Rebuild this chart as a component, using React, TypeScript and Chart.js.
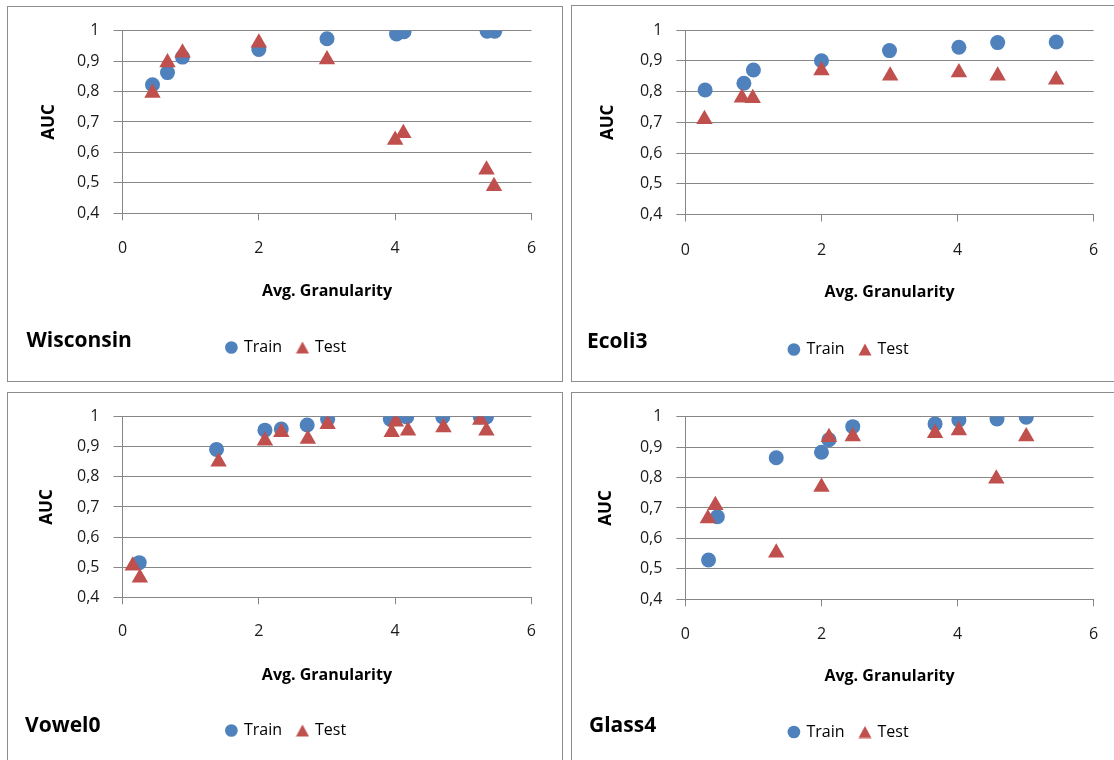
import React, { useEffect, useRef } from 'react';
import { Chart, registerables } from 'chart.js';
Chart.register(...registerables);

// ---------- data ----------
const seriesLabels = ['Train', 'Test'];
const xAxisTitle = 'Avg. Granularity';
const yAxisTitle = 'AUC';
const xTickValues = [0, 2, 4, 6];
const yTickValues = [0.4, 0.5, 0.6, 0.7, 0.8, 0.9, 1];

const wisconsinTrainX = [0.44, 0.66, 0.88, 2.0, 3.0, 4.02, 4.13, 5.35, 5.46];
const wisconsinTrainY = [0.822, 0.862, 0.913, 0.938, 0.973, 0.989, 0.996, 0.998, 0.998];
const wisconsinTestX = [0.44, 0.66, 0.88, 2.0, 3.0, 4.0, 4.12, 5.34, 5.45];
const wisconsinTestY = [0.795, 0.895, 0.927, 0.96, 0.905, 0.641, 0.663, 0.543, 0.489];

const ecoliTrainX = [0.29, 0.86, 1.0, 2.0, 3.0, 4.02, 4.59, 5.45];
const ecoliTrainY = [0.805, 0.827, 0.87, 0.9, 0.933, 0.944, 0.959, 0.961];
const ecoliTestX = [0.28, 0.83, 0.99, 2.0, 3.01, 4.02, 4.59, 5.45];
const ecoliTestY = [0.71, 0.78, 0.778, 0.868, 0.851, 0.862, 0.851, 0.838];

const vowelTrainX = [0.245, 1.38, 2.09, 2.33, 2.71, 3.01, 3.93, 4.01, 4.17, 4.7, 5.25, 5.34];
const vowelTrainY = [0.515, 0.891, 0.955, 0.959, 0.972, 0.991, 0.991, 0.993, 0.999, 0.999, 0.999, 0.999];
const vowelTestX = [0.15, 0.255, 1.41, 2.09, 2.33, 2.72, 3.01, 3.95, 4.01, 4.19, 4.71, 5.25, 5.34];
const vowelTestY = [0.505, 0.465, 0.85, 0.92, 0.948, 0.926, 0.975, 0.948, 0.983, 0.953, 0.964, 0.989, 0.953];

const glassTrainX = [0.34, 0.47, 1.335, 2.0, 2.11, 2.46, 3.67, 4.02, 4.58, 5.01];
const glassTrainY = [0.529, 0.671, 0.865, 0.883, 0.924, 0.967, 0.976, 0.989, 0.992, 0.998];
const glassTestX = [0.33, 0.44, 1.335, 2.0, 2.11, 2.46, 3.67, 4.02, 4.57, 5.01];
const glassTestY = [0.665, 0.709, 0.553, 0.769, 0.932, 0.935, 0.945, 0.954, 0.796, 0.935];

// ---------- styles ----------
const FONT = '"Open Sans", sans-serif';
const TRAIN_COLOR = '#4F81BD';
const TEST_COLOR = '#C0504D';
const GRID_COLOR = '#878787';
const TEXT_COLOR = '#1a1a1a';
const TICK_SIZE = 16;
const TITLE_SIZE = 16;
const YTITLE_SIZE = 17;
const LEGEND_SIZE = 16;
const LEGEND_PAD = 16;
const NAME_SIZE = 21;

type PanelLayout = {
  box: number[]; // left, top, width, height (page coords)
  area: number[]; // left, top, right, bottom of plot area
  yTitleX: number;
  xLabelY: number;
  xTitleY: number;
  legendX: number;
  legendY: number;
  nameX: number;
  nameBase: number;
};

type PanelDef = {
  name: string;
  trainX: number[];
  trainY: number[];
  testX: number[];
  testY: number[];
  layout: PanelLayout;
};

const panels: PanelDef[] = [
  {
    name: 'Wisconsin',
    trainX: wisconsinTrainX, trainY: wisconsinTrainY, testX: wisconsinTestX, testY: wisconsinTestY,
    layout: { box: [7, 6, 556, 376], area: [122.5, 29.5, 531.5, 213.3], yTitleX: 49, xLabelY: 248.3, xTitleY: 291, legendX: 286.5, legendY: 347.5, nameX: 26.5, nameBase: 347 },
  },
  {
    name: 'Ecoli3',
    trainX: ecoliTrainX, trainY: ecoliTrainY, testX: ecoliTestX, testY: ecoliTestY,
    layout: { box: [571, 5, 560, 377], area: [685.4, 30, 1093.6, 214.5], yTitleX: 608, xLabelY: 250, xTitleY: 292.5, legendX: 849, legendY: 349.5, nameX: 587, nameBase: 348 },
  },
  {
    name: 'Vowel0',
    trainX: vowelTrainX, trainY: vowelTrainY, testX: vowelTestX, testY: vowelTestY,
    layout: { box: [7, 392, 556, 380], area: [122.5, 414, 531.4, 597.3], yTitleX: 47, xLabelY: 631.7, xTitleY: 675, legendX: 286.5, legendY: 730.5, nameX: 25, nameBase: 731.5 },
  },
  {
    name: 'Glass4',
    trainX: glassTrainX, trainY: glassTrainY, testX: glassTestX, testY: glassTestY,
    layout: { box: [571, 392, 560, 380], area: [685.4, 416, 1093.6, 599.3], yTitleX: 606, xLabelY: 634, xTitleY: 676, legendX: 849, legendY: 732, nameX: 589, nameBase: 731.5 },
  },
];

function fmtComma(v: number) {
  const r = Math.round(v * 10) / 10;
  if (r === 1) return '1';
  return r.toFixed(1).replace('.', ',');
}

function makeLegendTriangle(): HTMLCanvasElement {
  const c = document.createElement('canvas');
  c.width = 14;
  c.height = 13;
  const ctx = c.getContext('2d');
  if (ctx) {
    ctx.fillStyle = TEST_COLOR;
    ctx.beginPath();
    ctx.moveTo(7, 0.5);
    ctx.lineTo(13.5, 12.5);
    ctx.lineTo(0.5, 12.5);
    ctx.closePath();
    ctx.fill();
  }
  return c;
}

function Panel({ p }: { p: PanelDef }) {
  const ref = useRef<HTMLCanvasElement>(null);
  const L = p.layout;
  const [bx, by, bw, bh] = L.box;
  const cx0 = bx + 1;
  const cy0 = by + 1;
  const W = bw - 2;
  const H = bh - 2;

  useEffect(() => {
    const canvas = ref.current;
    if (!canvas) return;
    const cl = L.area[0] - cx0;
    const ct = L.area[1] - cy0;
    const cr = L.area[2] - cx0;
    const cb = L.area[3] - cy0;
    const pr = W - cr;
    const lc = L.legendX - cx0;
    const pl = 2 * lc - W + pr;
    const yScaleWidth = cl - pl;
    const lcy = L.legendY - cy0;
    const lpb = H - lcy - LEGEND_SIZE / 2 - 10;
    const legendH = LEGEND_SIZE + LEGEND_PAD + 10;
    const legendTop = H - lpb - legendH;
    const xScaleHeight = legendTop - cb;
    const titleLH = TITLE_SIZE * 1.2;
    const xTitlePadBottom = legendTop - (L.xTitleY - cy0) - titleLH / 2;
    const tickLH = TICK_SIZE * 1.2;
    const xTickPad = L.xLabelY - L.area[3] - 7 - tickLH / 2;
    const yTitleLH = YTITLE_SIZE * 1.2;
    const yTitlePadTop = (L.yTitleX - cx0) - pl - yTitleLH / 2;
    const legendTriangle = makeLegendTriangle();

    const namePlugin = {
      id: 'panelName',
      afterDraw(chart: any) {
        const ctx = chart.ctx;
        ctx.save();
        ctx.font = `bold ${NAME_SIZE}px ${FONT}`;
        ctx.fillStyle = '#000';
        ctx.textAlign = 'left';
        ctx.textBaseline = 'alphabetic';
        ctx.fillText(p.name, L.nameX - cx0, L.nameBase - cy0);
        ctx.restore();
      },
    };

    const defaultGen = (Chart.defaults.plugins.legend.labels as any).generateLabels;

    const chart = new Chart(canvas, {
      type: 'scatter',
      data: {
        datasets: [
          {
            label: seriesLabels[0],
            data: p.trainX.map((x, i) => ({ x, y: p.trainY[i] })),
            pointStyle: 'circle',
            pointRadius: 7.5,
            pointHoverRadius: 7.5,
            backgroundColor: TRAIN_COLOR,
            borderColor: TRAIN_COLOR,
            pointBorderWidth: 0,
            order: 1,
          },
          {
            label: seriesLabels[1],
            data: p.testX.map((x, i) => ({ x, y: p.testY[i] })),
            pointStyle: 'triangle',
            pointRadius: 9.5,
            pointHoverRadius: 9.5,
            backgroundColor: TEST_COLOR,
            borderColor: TEST_COLOR,
            pointBorderWidth: 0,
            order: 0,
          },
        ],
      },
      options: {
        responsive: false,
        animation: false,
        layout: { padding: { left: pl, right: pr, top: ct, bottom: lpb } },
        scales: {
          x: {
            type: 'linear',
            min: 0,
            max: 6,
            afterBuildTicks: (s: any) => { s.ticks = xTickValues.map((v) => ({ value: v })); },
            afterFit: (s: any) => { s.height = xScaleHeight; },
            ticks: { padding: xTickPad, color: TEXT_COLOR, font: { family: FONT, size: TICK_SIZE } },
            grid: { drawOnChartArea: false, drawTicks: true, tickLength: 7, color: GRID_COLOR, lineWidth: 1 },
            border: { display: true, color: GRID_COLOR, width: 1 },
            title: {
              display: true,
              text: xAxisTitle,
              color: '#000',
              font: { family: FONT, size: TITLE_SIZE, weight: 'bold' },
              padding: { top: 0, bottom: xTitlePadBottom },
            },
          },
          y: {
            type: 'linear',
            min: 0.4,
            max: 1,
            afterBuildTicks: (s: any) => { s.ticks = yTickValues.map((v) => ({ value: v })); },
            afterFit: (s: any) => { s.width = yScaleWidth; },
            ticks: { padding: 14, color: TEXT_COLOR, font: { family: FONT, size: TICK_SIZE }, callback: (v: any) => fmtComma(Number(v)) },
            grid: { color: GRID_COLOR, tickLength: 9, lineWidth: 1 },
            border: { display: true, color: GRID_COLOR, width: 1 },
            title: {
              display: true,
              text: yAxisTitle,
              color: '#000',
              font: { family: FONT, size: YTITLE_SIZE, weight: 'bold' },
              padding: { top: yTitlePadTop, bottom: 0 },
            },
          },
        },
        plugins: {
          tooltip: { enabled: false },
          legend: {
            position: 'bottom',
            labels: {
              usePointStyle: true,
              boxWidth: 9,
              boxHeight: 9,
              padding: LEGEND_PAD,
              color: '#000',
              font: { family: FONT, size: LEGEND_SIZE },
              sort: (a: any, b: any) => a.datasetIndex - b.datasetIndex,
              generateLabels: (c: any) =>
                defaultGen(c).map((item: any) =>
                  item.datasetIndex === 1 ? { ...item, pointStyle: legendTriangle } : item
                ),
            },
          },
        },
      } as any,
      plugins: [namePlugin],
    });
    return () => chart.destroy();
  }, [p]);

  return (
    <div
      style={{
        position: 'absolute',
        left: bx,
        top: by,
        width: bw,
        height: bh,
        boxSizing: 'border-box',
        border: '1px solid #8c8c8c',
        background: '#fff',
      }}
    >
      <canvas ref={ref} width={W} height={H} style={{ display: 'block', width: W, height: H }} />
    </div>
  );
}

export default function App() {
  return (
    <div
      style={{
        position: 'fixed',
        left: 0,
        top: 0,
        width: 1114,
        height: 760,
        overflow: 'hidden',
        background: '#fff',
      }}
    >
      {panels.map((p) => (
        <Panel key={p.name} p={p} />
      ))}
    </div>
  );
}
